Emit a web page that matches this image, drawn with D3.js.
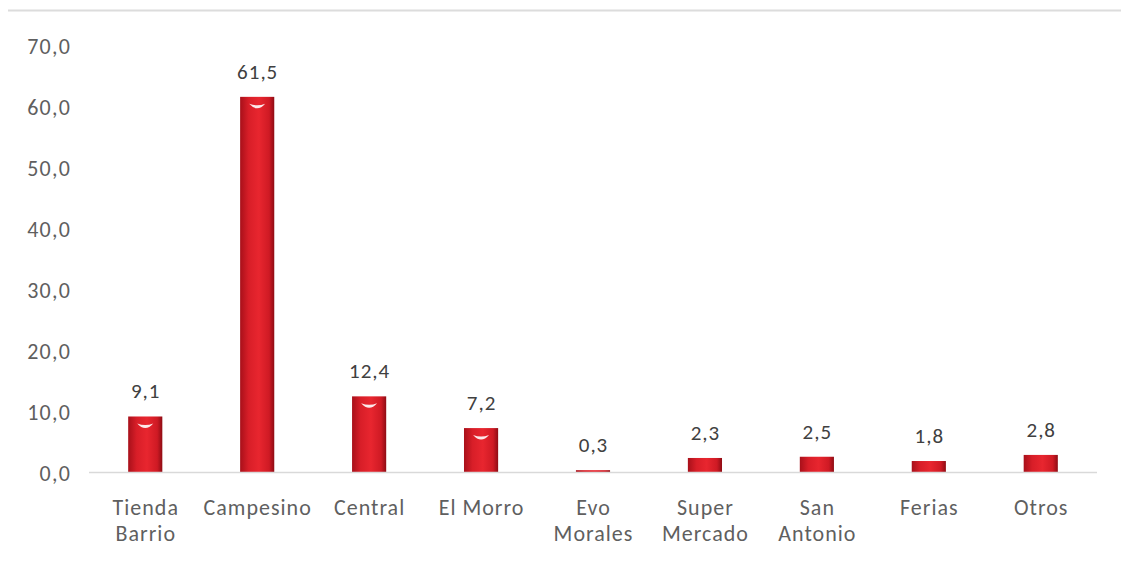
<!DOCTYPE html>
<html>
<head>
<meta charset="utf-8">
<script src="https://cdn.jsdelivr.net/npm/d3@7"></script>
<style>
  body { margin: 0; background: #fff; }
  text { font-family: Carlito, Lato, "Open Sans", sans-serif; }
</style>
</head>
<body>
<div id="chart"></div>
<script>
// categories and values (percent)
const categories = [['Tienda', 'Barrio'], ['Campesino'], ['Central'], ['El Morro'], ['Evo', 'Morales'],
    ['Super', 'Mercado'], ['San', 'Antonio'], ['Ferias'], ['Otros']];
const values = [9.1, 61.5, 12.4, 7.2, 0.3, 2.3, 2.5, 1.8, 2.8];
const yTicks = [0, 10, 20, 30, 40, 50, 60, 70];

const W = 1121, H = 561;
const margin = {top: 45, right: 24, bottom: 89, left: 89};
const width = W - margin.left - margin.right,
    height = H - margin.top - margin.bottom;

const fmt = v => v.toFixed(1).replace('.', ',');

const svg = d3.select('#chart')
  .append('svg')
    .attr('width', W)
    .attr('height', H);

// bar gradient, darker at the edges
const defs = svg.append('defs');
const grad = defs.append('linearGradient')
    .attr('id', 'barGrad')
    .attr('x1', '0%').attr('x2', '100%')
    .attr('y1', '0%').attr('y2', '0%');
grad.append('stop').attr('offset', '0%').attr('stop-color', '#a8101a');
grad.append('stop').attr('offset', '25%').attr('stop-color', '#d81e28');
grad.append('stop').attr('offset', '55%').attr('stop-color', '#e8262f');
grad.append('stop').attr('offset', '85%').attr('stop-color', '#cf1a24');
grad.append('stop').attr('offset', '100%').attr('stop-color', '#8e0c14');

// top frame line
svg.append('line')
    .attr('x1', 8).attr('x2', W)
    .attr('y1', 10.5).attr('y2', 10.5)
    .style('stroke', '#dcdcdc')
    .style('stroke-width', 2);

const g = svg.append('g')
    .attr('transform', `translate(${margin.left}, ${margin.top})`);

const x = d3.scaleBand()
    .domain(d3.range(categories.length))
    .range([0, width])
    .paddingInner(0.695)
    .paddingOuter(0.35);

const y = d3.scaleLinear()
    .domain([0, 70])
    .range([height, 0]);

// Y axis labels
const yAxis = g.append('g')
    .call(d3.axisLeft(y).tickValues(yTicks).tickFormat(fmt).tickSize(0).tickPadding(19));
yAxis.select('.domain').remove();
yAxis.selectAll('text')
    .style('font-size', '22px')
    .style('letter-spacing', '1.3px')
    .style('fill', '#5f5f5f')
    .attr('dx', '1.3')
    .attr('dy', '0.4em');

// bars
const bars = g.append('g')
  .selectAll('g')
  .data(values)
  .enter()
  .append('g');

bars.append('rect')
    .attr('x', (d, i) => x(i))
    .attr('y', d => y(d))
    .attr('width', x.bandwidth())
    .attr('height', d => height - y(d))
    .style('fill', 'url(#barGrad)');

// little highlight near the top of the taller bars
bars.filter(d => d > 5)
  .append('path')
    .attr('d', d => {
      const cx = x(values.indexOf(d)) + x.bandwidth() / 2, cy = y(d) + 7;
      return `M${cx - 8},${cy} Q${cx},${cy + 9} ${cx + 8},${cy} Q${cx},${cy + 3} ${cx - 8},${cy} Z`;
    })
    .style('fill', '#ffffff')
    .style('opacity', 0.9);

// X axis line
g.append('line')
    .attr('x1', 0).attr('x2', width)
    .attr('y1', height + 0.5).attr('y2', height + 0.5)
    .style('stroke', '#d9d9d9')
    .style('stroke-width', 1.5);

// value labels
g.append('g')
  .selectAll('text')
  .data(values)
  .enter()
  .append('text')
    .attr('x', (d, i) => x(i) + x.bandwidth() / 2 + 0.5)
    .attr('y', d => y(d) - 18)
    .attr('text-anchor', 'middle')
    .style('font-size', '21px')
    .style('letter-spacing', '1px')
    .style('fill', '#404040')
    .text(fmt);

// category labels
const cat = g.append('g')
  .selectAll('text')
  .data(categories)
  .enter()
  .append('text')
    .attr('x', (d, i) => x(i) + x.bandwidth() / 2 + 0.5)
    .attr('y', height + 43)
    .attr('text-anchor', 'middle')
    .style('font-size', '22px')
    .style('letter-spacing', '1px')
    .style('fill', '#5f5f5f');

cat.selectAll('tspan')
  .data(d => d)
  .enter()
  .append('tspan')
    .attr('x', function () { return d3.select(this.parentNode).attr('x'); })
    .attr('dy', (d, i) => i === 0 ? 0 : 26)
    .text(d => d);
</script>
</body>
</html>
